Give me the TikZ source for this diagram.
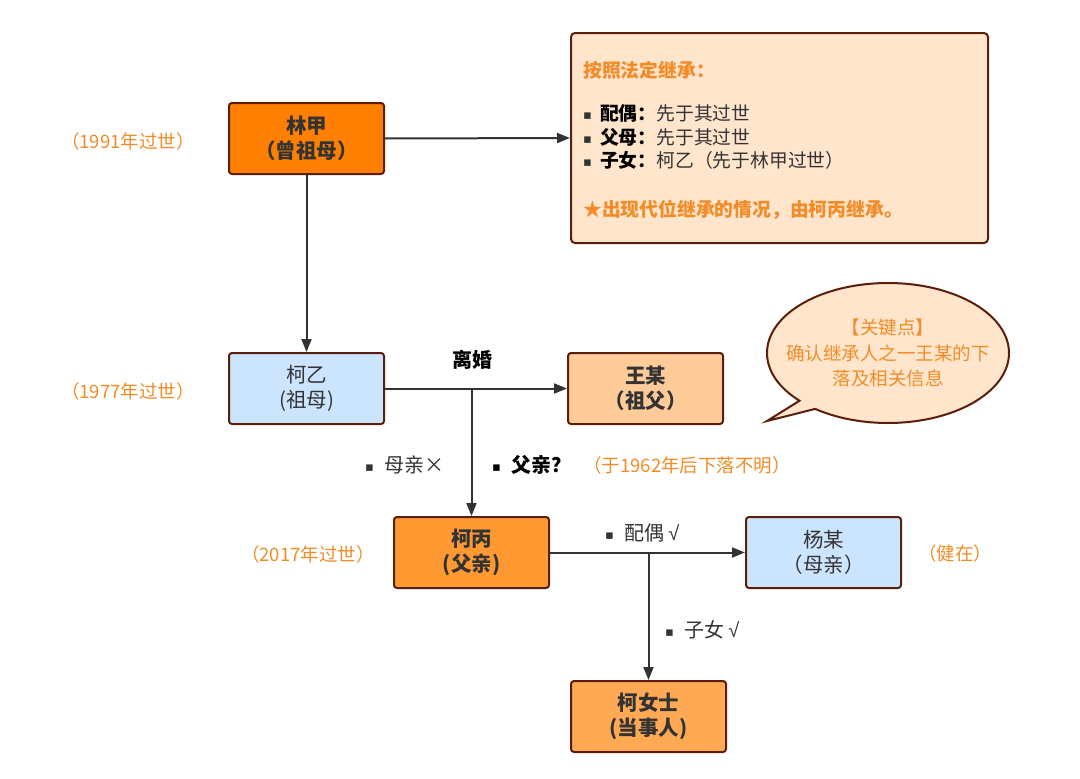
\documentclass[tikz,border=0pt]{standalone}
\usepackage{fontspec}
\setmainfont{Noto Sans CJK SC}
\newfontfamily\dejavu{DejaVu Sans}
\newfontfamily\libsans{Liberation Sans}
\usetikzlibrary{arrows.meta,shapes.geometric}
\definecolor{bordc}{HTML}{5A1E0A}
\definecolor{txtc}{HTML}{333333}
\definecolor{orgtxt}{HTML}{F28C28}
\definecolor{fillA}{HTML}{FF8000}
\definecolor{fillB}{HTML}{FF9A33}
\definecolor{fillC}{HTML}{FFA955}
\definecolor{fillD}{HTML}{FFCC99}
\definecolor{fillBlue}{HTML}{CCE5FF}
\definecolor{fillPeach}{HTML}{FFE5CC}
\definecolor{linec}{HTML}{333333}
\newcommand{\sqb}{{\dejavu\fontsize{13}{13}\selectfont\raisebox{1pt}{▪}}}
\newcommand{\chk}{{\libsans √}}
\tikzset{
  person/.style={draw=bordc, line width=2pt, rounded corners=3pt, minimum width=155pt, minimum height=71pt, align=center, text=txtc, font=\fontsize{20.5}{25.5}\selectfont, inner sep=0pt},
  arr/.style={draw=linec, line width=2pt, -{Triangle[length=13pt,width=10pt]}},
  note/.style={text=orgtxt, font=\fontsize{18.5}{24}\selectfont, inner sep=0pt},
  lbl/.style={text=txtc, font=\fontsize{20}{24}\selectfont, inner sep=0pt},
  info/.style={text=txtc, font=\fontsize{18.8}{24}\selectfont, inner sep=0pt, anchor=west},
}
\begin{document}
\begin{tikzpicture}[x=1pt,y=1pt]
\useasboundingbox (0,0) rectangle (1080,-779);
\fill[white] (0,0) rectangle (1080,-779);

% big info box
\node[draw=bordc, line width=2pt, rounded corners=4pt, fill=fillPeach, minimum width=417pt, minimum height=210pt, inner sep=0pt] (info) at (779.5,-138) {};
\node[info, text=orgtxt, font=\fontsize{18.8}{24}\selectfont\bfseries] (i1) at (583,-70) {按照法定继承：};
\node[info] (i2) at (583,-113) {\sqb\hspace{8pt}{\bfseries\color{black}配偶：}先于其过世};
\node[info] (i3) at (583,-137) {\sqb\hspace{8pt}{\bfseries\color{black}父母：}先于其过世};
\node[info] (i4) at (583,-160) {\sqb\hspace{8pt}{\bfseries\color{black}子女：}柯乙（先于林甲过世）};
\node[info, text=orgtxt, font=\fontsize{18.8}{24}\selectfont\bfseries] (i5) at (583,-210) {★出现代位继承的情况，由柯丙继承。};

% persons
\node[person, fill=fillA, font=\fontsize{20.5}{25.5}\selectfont\bfseries] (lj) at (306.5,-138.5) {林甲\\（曾祖母）};
\node[person, fill=fillBlue] (ky) at (306.5,-388.5) {柯乙\\(祖母)};
\node[person, fill=fillD, font=\fontsize{20.5}{25.5}\selectfont\bfseries] (wm) at (645.5,-388.5) {王某\\（祖父）};
\node[person, fill=fillB, font=\fontsize{20.5}{25.5}\selectfont\bfseries] (kb) at (471.5,-552.5) {柯丙\\(父亲)};
\node[person, fill=fillBlue] (ym) at (823.5,-552.5) {杨某\\（母亲）};
\node[person, fill=fillC, font=\fontsize{20.5}{25.5}\selectfont\bfseries] (kns) at (648.5,-716.5) {柯女士\\(当事人)};

% side notes
\node[note] (n1) at (128,-141) {（1991年过世）};
\node[note] (n2) at (128,-391) {（1977年过世）};
\node[note] (n3) at (308,-554) {（2017年过世）};
\node[note] (n4) at (955,-553) {（健在）};

% connectors
\draw[arr] (lj.east) -- (info.west);
\draw[arr] (lj.south) -- (ky.north);
\draw[arr] (ky.east) -- (wm.west);
\coordinate (j1) at (ky.east -| kb.north);
\draw[arr] (j1) -- (kb.north);
\draw[arr] (kb.east) -- (ym.west);
\coordinate (j2) at (kb.east -| kns.north);
\draw[arr] (j2) -- (kns.north);

% edge labels
\node[lbl, font=\fontsize{20}{24}\selectfont\bfseries, text=black] (div) at (472,-360) {离婚};
\node[lbl, anchor=west] (mq) at (365,-465) {\sqb\hspace{10pt}母亲×};
\node[lbl, anchor=west, font=\fontsize{20}{24}\selectfont\bfseries, text=black] (fq) at (492,-465) {\sqb\hspace{10pt}父亲？};
\node[note, anchor=west] (fq2) at (583,-465) {（于1962年后下落不明）};
\node[lbl, anchor=west] (po) at (605,-533) {\sqb\hspace{10pt}配偶 \chk};
\node[lbl, anchor=west] (zn) at (665,-630) {\sqb\hspace{10pt}子女 \chk};

% callout
\coordinate (cc) at (888,-353);
\coordinate (tip) at (767,-421);
\draw[draw=bordc, line width=2pt, fill=fillPeach, line join=miter]
  ([shift={(233:121 and 70)}]cc) arc[start angle=233, end angle=583, x radius=121, y radius=70] -- (tip) -- cycle;
\node[note, align=center, font=\fontsize{18.5}{25.5}\selectfont] (key) at (888,-353) {【关键点】\\确认继承人之一王某的下\\落及相关信息};
\end{tikzpicture}
\end{document}
